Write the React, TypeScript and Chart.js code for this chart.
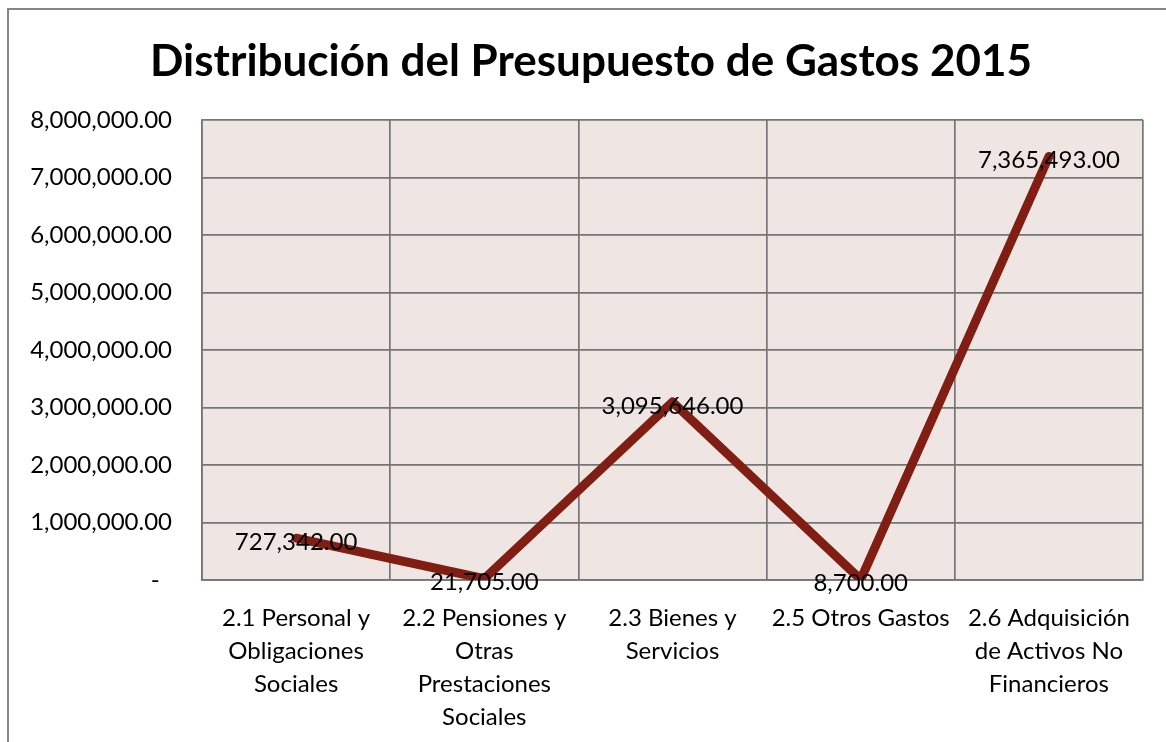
import React, { useEffect, useRef } from "react";
import { Chart, registerables } from "chart.js";

Chart.register(...registerables);

const titleText = "Distribución del Presupuesto de Gastos 2015";
const categories: string[][] = [
  ["2.1 Personal y", "Obligaciones", "Sociales"],
  ["2.2 Pensiones y", "Otras", "Prestaciones", "Sociales"],
  ["2.3 Bienes y", "Servicios"],
  ["2.5 Otros Gastos"],
  ["2.6 Adquisición", "de Activos No", "Financieros"],
];
const values: number[] = [727342, 21705, 3095646, 8700, 7365493];
const yMin = 0;
const yMax = 8000000;
const yStep = 1000000;

const FONT = "Lato, 'Open Sans', sans-serif";

const fmt = (v: number) =>
  v.toLocaleString("en-US", { minimumFractionDigits: 2, maximumFractionDigits: 2 });

const bgPlugin = {
  id: "plotBg",
  beforeDraw(chart: any) {
    const { ctx, chartArea } = chart;
    ctx.save();
    ctx.fillStyle = "#EFE6E4";
    ctx.fillRect(chartArea.left, chartArea.top, chartArea.right - chartArea.left, chartArea.bottom - chartArea.top);
    ctx.restore();
  },
};

const titlePlugin = {
  id: "customTitle",
  afterDraw(chart: any) {
    const { ctx } = chart;
    ctx.save();
    ctx.font = `bold 44px ${FONT}`;
    ctx.fillStyle = "#000";
    ctx.textAlign = "center";
    ctx.textBaseline = "middle";
    ctx.fillText(titleText, 591, 62);
    ctx.restore();
  },
};

const labelPlugin = {
  id: "dataLabels",
  afterDatasetsDraw(chart: any) {
    const { ctx } = chart;
    const meta = chart.getDatasetMeta(0);
    ctx.save();
    ctx.font = `24px ${FONT}`;
    ctx.fillStyle = "#000";
    ctx.textAlign = "center";
    ctx.textBaseline = "middle";
    meta.data.forEach((pt: any, i: number) => {
      ctx.fillText(fmt(values[i]), pt.x, pt.y + 4);
    });
    ctx.restore();
  },
};

export default function App() {
  const ref = useRef<HTMLCanvasElement>(null);
  useEffect(() => {
    if (!ref.current) return;
    const chart = new Chart(ref.current, {
      type: "line",
      data: {
        labels: categories,
        datasets: [
          {
            data: values,
            borderColor: "#801E14",
            borderWidth: 9,
            pointRadius: 0,
            borderJoinStyle: "round",
            borderCapStyle: "round",
            tension: 0,
            fill: false,
          },
        ],
      },
      options: {
        animation: false,
        responsive: false,
        maintainAspectRatio: false,
        layout: { padding: { left: 0, right: 23, top: 120, bottom: 0 } },
        plugins: {
          legend: { display: false },
          tooltip: { enabled: false },
          title: { display: false },
        },
        scales: {
          x: {
            offset: true,
            grid: { display: true, color: "#767676", lineWidth: 1.7, drawTicks: false, offset: true },
            border: { display: true, color: "#767676", width: 1.7 },
            ticks: {
              color: "#000",
              font: { family: FONT, size: 24, lineHeight: 1.375 },
              maxRotation: 0,
              autoSkip: false,
              padding: 22,
            },
            afterFit(scale: any) {
              scale.height = 162;
            },
          },
          y: {
            min: yMin,
            max: yMax,
            grid: { color: "#767676", lineWidth: 1.7, drawTicks: false },
            border: { display: true, color: "#767676", width: 1.7 },
            ticks: {
              stepSize: yStep,
              color: "#000",
              font: { family: FONT, size: 24 },
              padding: 30,
              callback: (v: any) => (Number(v) === 0 ? "-  " : fmt(Number(v))),
            },
            afterFit(scale: any) {
              scale.width = 202;
            },
          },
        },
      },
      plugins: [bgPlugin, labelPlugin, titlePlugin],
    });
    return () => chart.destroy();
  }, []);

  return (
    <div style={{ position: "fixed", left: 0, top: 0, width: 1166, height: 742, overflow: "hidden", background: "#fff" }}>
      <div
        style={{
          position: "absolute",
          left: 7,
          top: 8,
          width: 1300,
          height: 900,
          border: "2px solid #858585",
          boxSizing: "border-box",
        }}
      />
      <canvas ref={ref} width={1166} height={742} style={{ position: "absolute", left: 0, top: 0 }} />
    </div>
  );
}
